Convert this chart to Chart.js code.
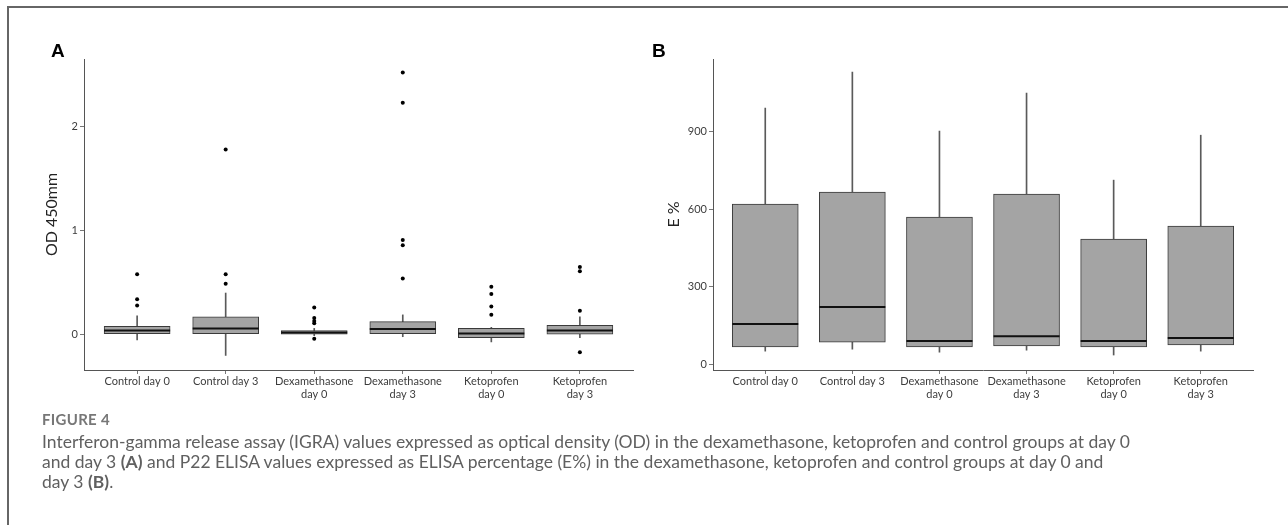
<!DOCTYPE html>
<html>
<head>
<meta charset="utf-8">
<script src="https://cdn.jsdelivr.net/npm/chart.js@4.4.1/dist/chart.umd.min.js"></script>
<style>
  body { margin: 0; width: 1288px; height: 525px; overflow: hidden; position: relative; background: #fff; font-family: Lato, sans-serif; }
  #frame { position: absolute; left: 7px; top: 6px; right: 0; bottom: 0; border-left: 2px solid #666; border-top: 2px solid #666; }
  .wrap { position: absolute; top: 0; }
  #wrapA { left: 0; }
  #wrapB { left: 640px; }
  .tag { position: absolute; top: 40px; font: bold 19px "Liberation Sans", Arial, sans-serif; color: #000; }
  #caption { position: absolute; left: 42px; top: 409px; color: #606060; font-size: 17.5px; line-height: 20px; white-space: nowrap; }
  #caption .fig { font-size: 15px; font-weight: 700; color: #777; letter-spacing: 0.3px; margin-bottom: 3px; }
</style>
</head>
<body>
<div id="frame"></div>
<div class="wrap" id="wrapA"><canvas id="chartA" width="690" height="415"></canvas></div>
<div class="wrap" id="wrapB"><canvas id="chartB" width="648" height="415"></canvas></div>
<div class="tag" style="left:51px">A</div>
<div class="tag" style="left:652px">B</div>
<div id="caption">
  <div class="fig">FIGURE 4</div>
  <div>Interferon-gamma release assay (IGRA) values expressed as optical density (OD) in the dexamethasone, ketoprofen and control groups at day 0</div>
  <div>and day 3 <b>(A)</b> and P22 ELISA values expressed as ELISA percentage (E%) in the dexamethasone, ketoprofen and control groups at day 0 and</div>
  <div>day 3 <b>(B)</b>.</div>
</div>
<script>
const categories = ["Control day 0", "Control day 3", "Dexamethasone day 0", "Dexamethasone day 3", "Ketoprofen day 0", "Ketoprofen day 3"];
const tickLabels = ["Control day 0", "Control day 3", ["Dexamethasone", "day 0"], ["Dexamethasone", "day 3"], ["Ketoprofen", "day 0"], ["Ketoprofen", "day 3"]];

// panel A: IGRA OD 450
const odWhiskerLow = [-0.05, -0.2, -0.01, -0.02, -0.07, -0.03];
const odQ1 = [0.01, 0.01, 0.005, 0.01, -0.03, 0.0];
const odMedian = [0.04, 0.06, 0.02, 0.055, 0.01, 0.04];
const odQ3 = [0.08, 0.17, 0.04, 0.125, 0.06, 0.09];
const odWhiskerHigh = [0.18, 0.4, 0.06, 0.19, 0.07, 0.17];
const odOutliers = [
  [0.58, 0.34, 0.28],
  [1.78, 0.58, 0.49],
  [0.26, 0.16, 0.13, 0.11, -0.04],
  [2.52, 2.23, 0.91, 0.86, 0.54],
  [0.46, 0.39, 0.27, 0.19],
  [0.65, 0.61, 0.23, -0.17],
];
const odTicks = [0, 1, 2];

// panel B: P22 ELISA E%
const eWhiskerLow = [50, 58, 46, 54, 35, 50];
const eQ1 = [66, 85, 66, 70, 66, 74];
const eMedian = [155, 221, 89, 108, 89, 101];
const eQ3 = [619, 666, 569, 658, 484, 534];
const eWhiskerHigh = [991, 1130, 902, 1049, 712, 886];
const eOutliers = [[], [], [], [], [], []];
const eTicks = [0, 300, 600, 900];

const tickFont = { family: "Lato", size: 11 };

const makeBoxChart = (id, d) => {
  const range = (lo, hi) => categories.map((c, i) => ({ x: i, y: [lo[i], hi[i]] }));
  return new Chart(document.getElementById(id), {
    type: "bar",
    data: {
      datasets: [
        {
          type: "scatter",
          data: d.median.map((v, i) => ({ x: i, y: v })),
          pointStyle: "line",
          pointRadius: 33,
          pointHoverRadius: 33,
          pointBorderWidth: 2,
          pointBorderColor: "#111",
        },
        {
          type: "scatter",
          data: d.outliers.flatMap((arr, i) => arr.map((v) => ({ x: i, y: v }))),
          pointRadius: 2,
          pointBackgroundColor: "#000",
          pointBorderWidth: 0,
        },
        {
          data: range(d.q1, d.q3),
          backgroundColor: "#a4a4a4",
          borderColor: "#3a3a3a",
          borderWidth: 1,
          borderSkipped: false,
          barThickness: 66,
          grouped: false,
        },
        {
          data: range(d.low, d.high),
          backgroundColor: "#5a5a5a",
          borderWidth: 0,
          barThickness: 1,
          grouped: false,
        },
      ],
    },
    options: {
      responsive: false,
      animation: false,
      layout: { padding: d.padding },
      plugins: { legend: { display: false }, tooltip: { enabled: false } },
      scales: {
        x: {
          type: "linear",
          min: -0.6,
          max: 5.6,
          offset: false,
          afterBuildTicks: (s) => { s.ticks = categories.map((c, i) => ({ value: i })); },
          afterFit: (s) => { s.height = 45; },
          ticks: { callback: (v) => tickLabels[v], color: "#3d3d3d", font: tickFont, padding: 1, maxRotation: 0, autoSkip: false },
          grid: { drawOnChartArea: false, offset: false, tickLength: 4, color: "#777" },
          border: { color: "#555", width: 1 },
        },
        y: {
          min: d.min,
          max: d.max,
          afterBuildTicks: (s) => { s.ticks = d.ticks.map((v) => ({ value: v })); },
          afterFit: (s) => { s.width = d.axisWidth; },
          ticks: { color: "#3d3d3d", font: tickFont, padding: 2 },
          grid: { drawOnChartArea: false, tickLength: 4, color: "#777" },
          border: { color: "#555", width: 1 },
          title: { display: true, text: d.title, color: "#222", font: { family: "Lato", size: 16 }, padding: { top: 0, bottom: 0 } },
        },
      },
    },
  });
};

makeBoxChart("chartA", {
  low: odWhiskerLow, q1: odQ1, median: odMedian, q3: odQ3, high: odWhiskerHigh, outliers: odOutliers,
  ticks: odTicks, min: -0.34, max: 2.65, title: "OD 450mm",
  padding: { left: 42, top: 59, right: 57, bottom: 0 }, axisWidth: 42,
});

makeBoxChart("chartB", {
  low: eWhiskerLow, q1: eQ1, median: eMedian, q3: eQ3, high: eWhiskerHigh, outliers: eOutliers,
  ticks: eTicks, min: -23, max: 1181, title: "E %",
  padding: { left: 24, top: 59, right: 34, bottom: 0 }, axisWidth: 49,
});
</script>
</body>
</html>
